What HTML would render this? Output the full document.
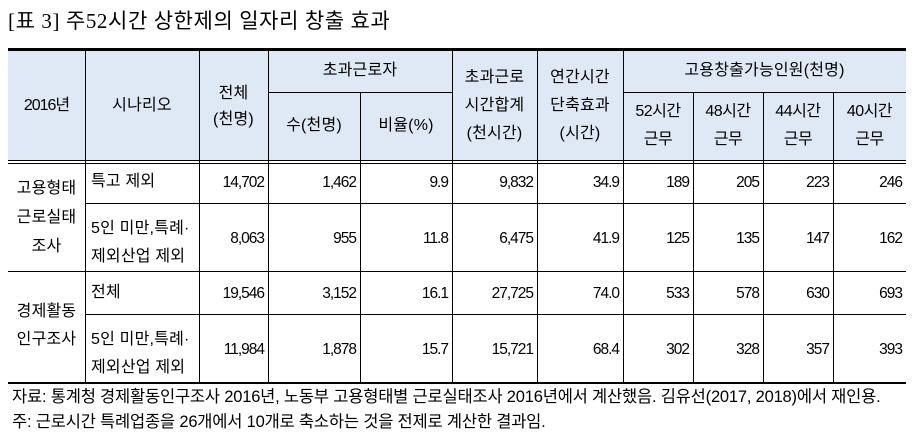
<!DOCTYPE html>
<html><head><meta charset="utf-8"><style>
*{margin:0;padding:0;box-sizing:border-box}
body{width:919px;height:436px;background:#fff;position:relative;overflow:hidden;font-family:"Liberation Sans","Noto Sans CJK KR",sans-serif;color:#000}
.h{position:absolute;background:#000}
.t{position:absolute;font-size:16px;line-height:22px;white-space:nowrap;letter-spacing:0.2px}
.c{text-align:center}
.r{text-align:right;letter-spacing:-1px;font-size:15.5px}
.bg{position:absolute;background:#dfe8f5}
</style></head><body>
<div class="t" style="left:8px;top:7px;font-size:21px;line-height:28px;font-family:'Liberation Serif','Noto Sans CJK KR',serif;letter-spacing:0.6px">[표 3] 주52시간 상한제의 일자리 창출 효과</div>
<div class="bg" style="left:8px;top:50px;width:898px;height:111px"></div>
<div class="h" style="left:8px;top:48px;width:898px;height:3px"></div>
<div class="h" style="left:268px;top:92px;width:184px;height:1px"></div>
<div class="h" style="left:623px;top:92px;width:283px;height:1px"></div>
<div class="h" style="left:8px;top:160px;width:898px;height:1px"></div>
<div class="h" style="left:8px;top:163px;width:898px;height:1px"></div>
<div class="h" style="left:85px;top:203px;width:821px;height:1px"></div>
<div class="h" style="left:8px;top:271px;width:898px;height:1px"></div>
<div class="h" style="left:85px;top:314px;width:821px;height:1px"></div>
<div class="h" style="left:8px;top:382px;width:898px;height:2px"></div>
<div class="h" style="left:85px;top:50px;width:1px;height:333px"></div>
<div class="h" style="left:199px;top:50px;width:1px;height:333px"></div>
<div class="h" style="left:268px;top:50px;width:1px;height:333px"></div>
<div class="h" style="left:360px;top:92px;width:1px;height:291px"></div>
<div class="h" style="left:452px;top:50px;width:1px;height:333px"></div>
<div class="h" style="left:537px;top:50px;width:1px;height:333px"></div>
<div class="h" style="left:623px;top:50px;width:1px;height:333px"></div>
<div class="h" style="left:693px;top:92px;width:1px;height:291px"></div>
<div class="h" style="left:763px;top:92px;width:1px;height:291px"></div>
<div class="h" style="left:833px;top:92px;width:1px;height:291px"></div>
<div class="t c" style="left:8px;width:77px;top:95px;letter-spacing:-1px">2016년</div>
<div class="t c" style="left:85px;width:114px;top:95px">시나리오</div>
<div class="t c" style="left:199px;width:69px;top:81px;line-height:26px">전체<br>(천명)</div>
<div class="t c" style="left:268px;width:184px;top:60px">초과근로자</div>
<div class="t c" style="left:268px;width:92px;top:115px">수(천명)</div>
<div class="t c" style="left:360px;width:92px;top:115px">비율(%)</div>
<div class="t c" style="left:452px;width:85px;top:64px;line-height:28px">초과근로<br>시간합계<br>(천시간)</div>
<div class="t c" style="left:537px;width:86px;top:64px;line-height:28px">연간시간<br>단축효과<br>(시간)</div>
<div class="t c" style="left:623px;width:283px;top:60px">고용창출가능인원(천명)</div>
<div class="t c" style="left:623px;width:70px;top:98px;line-height:28px;letter-spacing:-0.5px">52시간<br>근무</div>
<div class="t c" style="left:693px;width:70px;top:98px;line-height:28px;letter-spacing:-0.5px">48시간<br>근무</div>
<div class="t c" style="left:763px;width:70px;top:98px;line-height:28px;letter-spacing:-0.5px">44시간<br>근무</div>
<div class="t c" style="left:833px;width:73px;top:98px;line-height:28px;letter-spacing:-0.5px">40시간<br>근무</div>
<div class="t c" style="left:8px;width:77px;top:174px;line-height:29px">고용형태<br>근로실태<br>조사</div>
<div class="t c" style="left:8px;width:77px;top:298px;line-height:28px">경제활동<br>인구조사</div>
<div class="t" style="left:91px;top:171px">특고 제외</div>
<div class="t" style="left:91px;top:215px;line-height:28px">5인 미만,특례·<br>제외산업 제외</div>
<div class="t" style="left:91px;top:282px">전체</div>
<div class="t" style="left:91px;top:326px;line-height:28px">5인 미만,특례·<br>제외산업 제외</div>

<div class="t r" style="left:199px;width:65px;top:172px">14,702</div>
<div class="t r" style="left:268px;width:88px;top:172px">1,462</div>
<div class="t r" style="left:360px;width:88px;top:172px">9.9</div>
<div class="t r" style="left:452px;width:81px;top:172px">9,832</div>
<div class="t r" style="left:537px;width:82px;top:172px">34.9</div>
<div class="t r" style="left:623px;width:66px;top:172px">189</div>
<div class="t r" style="left:693px;width:66px;top:172px">205</div>
<div class="t r" style="left:763px;width:66px;top:172px">223</div>
<div class="t r" style="left:833px;width:69px;top:172px">246</div>

<div class="t r" style="left:199px;width:65px;top:228px">8,063</div>
<div class="t r" style="left:268px;width:88px;top:228px">955</div>
<div class="t r" style="left:360px;width:88px;top:228px">11.8</div>
<div class="t r" style="left:452px;width:81px;top:228px">6,475</div>
<div class="t r" style="left:537px;width:82px;top:228px">41.9</div>
<div class="t r" style="left:623px;width:66px;top:228px">125</div>
<div class="t r" style="left:693px;width:66px;top:228px">135</div>
<div class="t r" style="left:763px;width:66px;top:228px">147</div>
<div class="t r" style="left:833px;width:69px;top:228px">162</div>

<div class="t r" style="left:199px;width:65px;top:283px">19,546</div>
<div class="t r" style="left:268px;width:88px;top:283px">3,152</div>
<div class="t r" style="left:360px;width:88px;top:283px">16.1</div>
<div class="t r" style="left:452px;width:81px;top:283px">27,725</div>
<div class="t r" style="left:537px;width:82px;top:283px">74.0</div>
<div class="t r" style="left:623px;width:66px;top:283px">533</div>
<div class="t r" style="left:693px;width:66px;top:283px">578</div>
<div class="t r" style="left:763px;width:66px;top:283px">630</div>
<div class="t r" style="left:833px;width:69px;top:283px">693</div>

<div class="t r" style="left:199px;width:65px;top:339px">11,984</div>
<div class="t r" style="left:268px;width:88px;top:339px">1,878</div>
<div class="t r" style="left:360px;width:88px;top:339px">15.7</div>
<div class="t r" style="left:452px;width:81px;top:339px">15,721</div>
<div class="t r" style="left:537px;width:82px;top:339px">68.4</div>
<div class="t r" style="left:623px;width:66px;top:339px">302</div>
<div class="t r" style="left:693px;width:66px;top:339px">328</div>
<div class="t r" style="left:763px;width:66px;top:339px">357</div>
<div class="t r" style="left:833px;width:69px;top:339px">393</div>
<div class="t" style="left:12px;top:386px;font-size:16.5px;letter-spacing:-0.2px">자료: 통계청 경제활동인구조사 2016년, 노동부 고용형태별 근로실태조사 2016년에서 계산했음. 김유선(2017, 2018)에서 재인용.</div>
<div class="t" style="left:12px;top:411px;font-size:16.5px;letter-spacing:-0.2px">주: 근로시간 특례업종을 26개에서 10개로 축소하는 것을 전제로 계산한 결과임.</div>
</body></html>
